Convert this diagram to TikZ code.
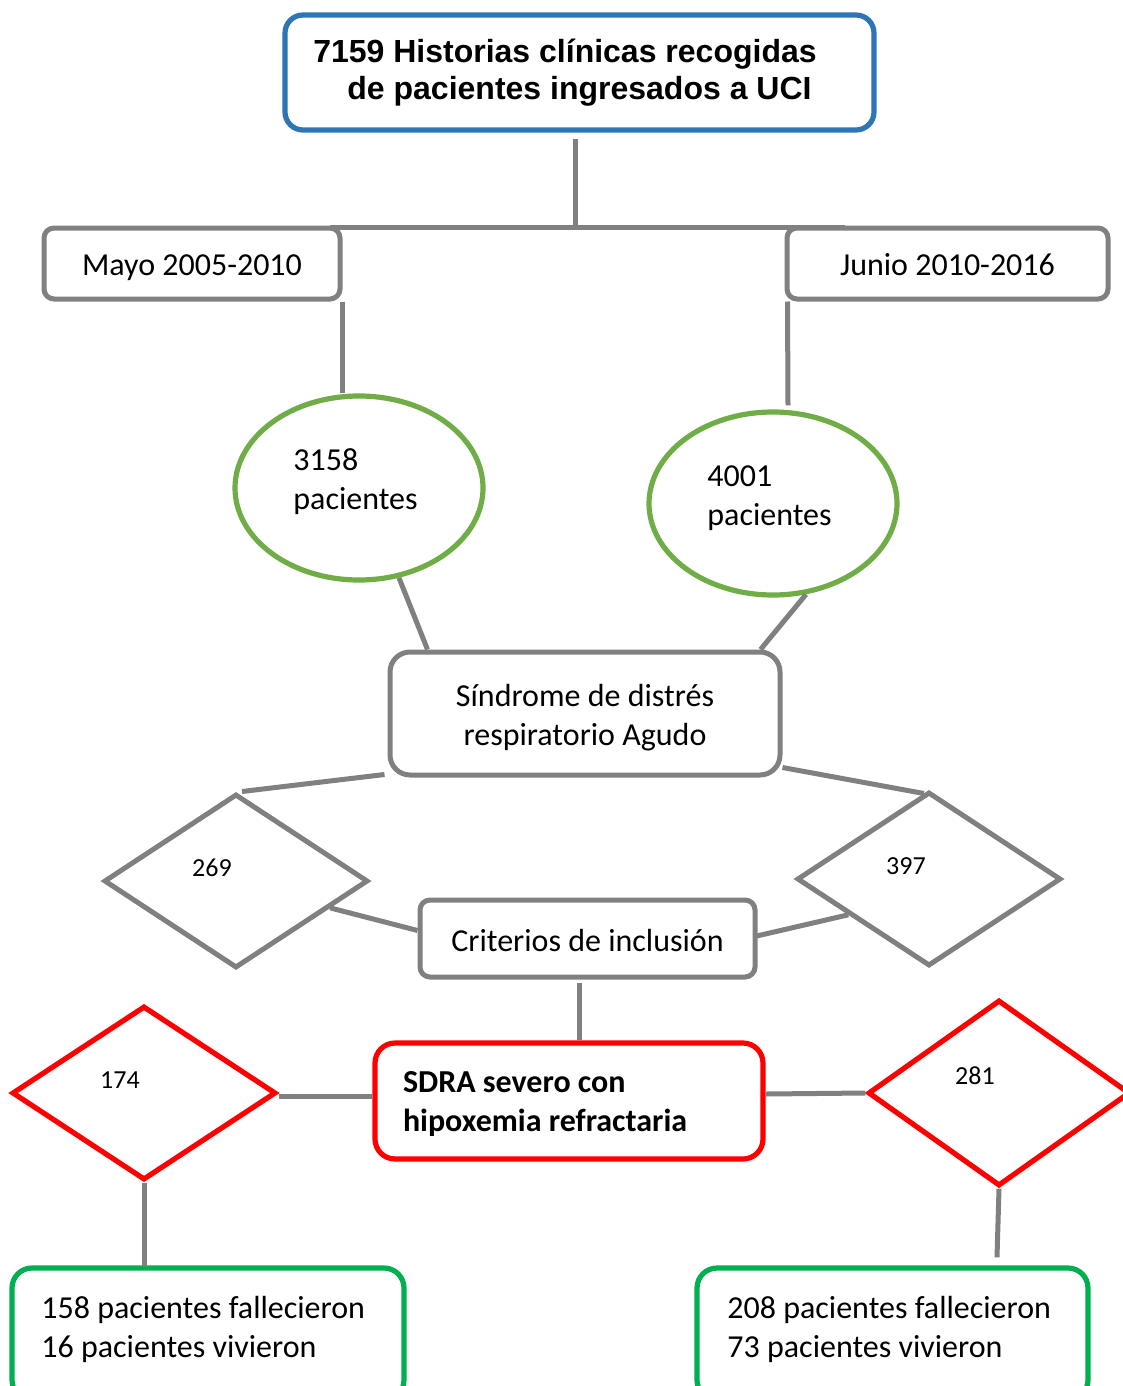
\documentclass[tikz,border=0pt]{standalone}
\usepackage{fontspec}
\setmainfont{Carlito}
\newfontfamily\arialfont{Liberation Sans}
\usetikzlibrary{shapes.geometric,calc}
\definecolor{bluebox}{HTML}{2E75B6}
\definecolor{greyline}{HTML}{808080}
\definecolor{greenell}{HTML}{70AD47}
\definecolor{greenbox}{HTML}{00B050}
\definecolor{redbox}{HTML}{FF0000}
\tikzset{
  conn/.style={draw=greyline, line width=2.5pt},
  box/.style={draw=greyline, line width=2.5pt, rectangle, fill=white, inner sep=0pt,
     font=\fontsize{16pt}{19.5pt}\selectfont, align=center},
  ellbox/.style={draw=greenell, line width=2.6pt, ellipse, inner sep=0pt, fill=white},
  dia/.style={draw=greyline, line width=2.5pt, diamond, inner sep=0pt, fill=white},
  rdia/.style={draw=redbox, line width=2.6pt, diamond, inner sep=0pt, fill=white},
  txt/.style={inner sep=0pt, align=left, font=\fontsize{16pt}{19.5pt}\selectfont},
  numtxt/.style={inner sep=0pt, font=\fontsize{13pt}{15pt}\selectfont},
}
\begin{document}
\begin{tikzpicture}[x=0.5pt,y=-0.5pt]
\useasboundingbox (0,0) rectangle (1123,1386);
\fill[white] (0,0) rectangle (1123,1386);

% junction coordinates
\coordinate (jt) at (575,227);
\coordinate (jl) at (330,227);
\coordinate (jr) at (845,227);
\coordinate (cdown) at (579,983);

\node[box, minimum width=294.5pt, minimum height=57.5pt, rounded corners=9pt, draw=bluebox, line width=2.6pt,
      font=\arialfont\bfseries\fontsize{16pt}{18.5pt}\selectfont] (title) at (579.5,72.5)
      {7159 Historias clínicas recogidas\hspace*{14.5pt}\\de pacientes ingresados a UCI};

\node[box, minimum width=148pt, minimum height=35.5pt, rounded corners=5pt, text height=13pt, text depth=1.5pt]
      (mayo) at (192,263.5) {Mayo 2005-2010};
\node[box, minimum width=160.5pt, minimum height=35.5pt, rounded corners=5pt, text height=13pt, text depth=1.5pt]
      (junio) at (947.5,263.5) {Junio 2010-2016};

\draw[conn] ($(title.south)+(-4.5,6)$) -- (jt);
\draw[conn] (jl) -- (jr);

\node[ellbox, minimum width=124pt, minimum height=92pt] (e1) at (359,488) {};
\node[ellbox, minimum width=124pt, minimum height=91.5pt] (e2) at (773,503.5) {};

\draw[conn] (mayo.south east) -- (mayo.south east |- e1.north);
\draw[conn] ($(junio.south west)+(3,0)$) -- ($(e2.north)+(15,-4)$);

\node[txt, anchor=west] (t1) at (293,482) {3158\\pacientes};
\node[txt, anchor=west] (t2) at (707,498) {4001\\pacientes};

\node[box, minimum width=195pt, minimum height=61.5pt, rounded corners=10pt] (sdra) at (585,713.5)
      {\rule{0pt}{15pt}Síndrome de distrés\\respiratorio Agudo};

\draw[conn] (e1.-66) -- ($(sdra.north west)+(40,0)$);
\draw[conn] (e2.-70) -- ($(sdra.north east)+(-22,0)$);

\node[dia, minimum width=132pt, minimum height=87pt] (d1) at (236,881) {};
\node[dia, minimum width=132pt, minimum height=87pt] (d2) at (929,879) {};
\node[numtxt] (n1) at (212,868) {269};
\node[numtxt] (n2) at (906,866) {397};

\draw[conn] ($(sdra.south west)+(-3,-3)$) -- ($(d1.north)+(6,0)$);
\draw[conn] ($(sdra.south east)+(0,-10)$) -- ($(d2.north)+(-5,4)$);

\node[box, minimum width=167.5pt, minimum height=38.5pt, rounded corners=5pt] (crit) at (587.5,938.5)
      {\rule{0pt}{13pt}Criterios de inclusión};

\draw[conn] ($(d1.east)!0.3!(d1.south)$) -- ($(crit.west)+(0,-8)$);
\draw[conn] ($(crit.east)+(-3,-2)$) -- ($(d2.west)!0.4!(d2.south)$);

\node[box, draw=redbox, line width=2.6pt, minimum width=194pt, minimum height=58pt, rounded corners=10pt,
      text width=166pt, align=flush left, font=\bfseries\fontsize{16pt}{19.5pt}\selectfont] (sev) at (569,1101)
      {\rule{0pt}{13.3pt}SDRA severo con\\hipoxemia refractaria};

\draw[conn] (cdown) -- (cdown |- sev.north);

\node[rdia, minimum width=132pt, minimum height=87pt] (rd1) at (144,1093) {};
\node[rdia, minimum width=131pt, minimum height=93pt] (rd2) at (999,1093) {};
\node[numtxt] (n3) at (120,1080) {174};
\node[numtxt] (n4) at (975,1076) {281};

\coordinate (a1) at ($(rd1.east)+(0,3)$);
\draw[conn] (a1) -- (a1 -| sev.west);
\coordinate (a2) at ($(sev.east)+(0,-7)$);
\draw[conn] (a2) -- (rd2.west);

\node[box, draw=greenbox, line width=2.6pt, minimum width=196pt, minimum height=66pt, rounded corners=10pt] (g1) at (208,1334) {};
\node[box, draw=greenbox, line width=2.6pt, minimum width=195.5pt, minimum height=66pt, rounded corners=10pt] (g2) at (892.5,1334) {};

\draw[conn] (rd1.south) -- ($(rd1.south |- g1.north)+(0,1)$);
\draw[conn] (rd2.south) -- ($(rd2.south |- g2.north)+(-2,-8)$);

\node[txt, anchor=west] (t3) at (41,1329) {158 pacientes fallecieron\\16 pacientes vivieron};
\node[txt, anchor=west] (t4) at (727,1329) {208 pacientes fallecieron\\73 pacientes vivieron};
\end{tikzpicture}
\end{document}
